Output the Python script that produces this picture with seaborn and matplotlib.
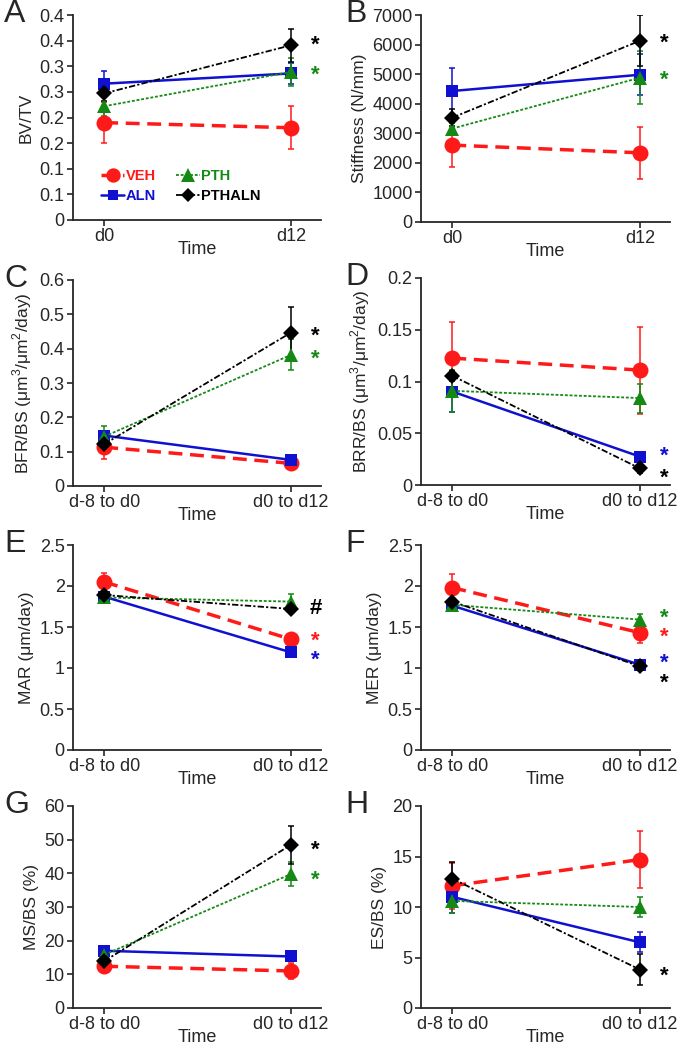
import numpy as np
import pandas as pd
import seaborn as sns
import matplotlib.pyplot as plt
from matplotlib.lines import Line2D

# группы и стили
groups = ['VEH', 'ALN', 'PTH', 'PTHALN']
colors = {'VEH': '#ff1a1a', 'ALN': '#1010d0', 'PTH': '#148a14', 'PTHALN': '#000000'}
markers = {'VEH': 'o', 'ALN': 's', 'PTH': '^', 'PTHALN': 'D'}
msizes = {'VEH': 11.5, 'ALN': 8.5, 'PTH': 10.5, 'PTHALN': 8}
lwidths = {'VEH': 2.5, 'ALN': 1.8, 'PTH': 1.3, 'PTHALN': 1.3}
lstyles = {'VEH': (0, (4, 2.2)), 'ALN': '-', 'PTH': (0, (1.6, 1.0)),
           'PTHALN': (0, (3.5, 1.2, 1.2, 1.2))}

time_ab = ['d0', 'd12']
time_rest = ['d-8 to d0', 'd0 to d12']

# значения (порядок: VEH, ALN, PTH, PTHALN); t0 / t1 и ошибки
bvtv_t0 = [0.190, 0.266, 0.222, 0.247]
bvtv_t1 = [0.180, 0.286, 0.289, 0.341]
bvtv_e0 = [0.040, 0.025, 0.020, 0.015]
bvtv_e1 = [0.042, 0.020, 0.028, 0.032]

stiff_t0 = [2600, 4430, 3160, 3530]
stiff_t1 = [2340, 4980, 4880, 6130]
stiff_e0 = [750, 780, 200, 300]
stiff_e1 = [880, 700, 900, 870]

bfr_t0 = [0.113, 0.147, 0.144, 0.122]
bfr_t1 = [0.066, 0.076, 0.382, 0.447]
bfr_e0 = [0.035, 0.010, 0.030, 0.020]
bfr_e1 = [0.008, 0.008, 0.045, 0.075]

brr_t0 = [0.1226, 0.0903, 0.0910, 0.1055]
brr_t1 = [0.1110, 0.0274, 0.0840, 0.0160]
brr_e0 = [0.035, 0.020, 0.020, 0.005]
brr_e1 = [0.042, 0.003, 0.014, 0.004]

mar_t0 = [2.05, 1.87, 1.86, 1.89]
mar_t1 = [1.35, 1.19, 1.81, 1.72]
mar_e0 = [0.11, 0.04, 0.06, 0.03]
mar_e1 = [0.07, 0.03, 0.09, 0.03]

mer_t0 = [1.98, 1.76, 1.77, 1.81]
mer_t1 = [1.43, 1.04, 1.59, 1.02]
mer_e0 = [0.17, 0.07, 0.04, 0.03]
mer_e1 = [0.12, 0.03, 0.07, 0.03]

msbs_t0 = [12.4, 17.0, 15.8, 13.9]
msbs_t1 = [11.0, 15.3, 39.8, 48.5]
msbs_e0 = [2.0, 1.0, 1.5, 1.5]
msbs_e1 = [2.3, 0.8, 3.5, 5.7]

esbs_t0 = [12.1, 11.0, 10.6, 12.8]
esbs_t1 = [14.7, 6.5, 10.0, 3.8]
esbs_e0 = [2.3, 1.6, 1.2, 1.7]
esbs_e1 = [2.8, 1.0, 1.0, 1.5]

# звездочки: (текст, группа-цвет, y)
stars_a = [('*', 'PTHALN', 0.342), ('*', 'PTH', 0.282)]
stars_b = [('*', 'PTHALN', 6050), ('*', 'PTH', 4780)]
stars_c = [('*', 'PTHALN', 0.435), ('*', 'PTH', 0.37)]
stars_d = [('*', 'ALN', 0.028), ('*', 'PTHALN', 0.007)]
stars_e = [('#', 'PTHALN', 1.72), ('*', 'VEH', 1.33), ('*', 'ALN', 1.09)]
stars_f = [('*', 'PTH', 1.61), ('*', 'VEH', 1.37), ('*', 'ALN', 1.06), ('*', 'PTHALN', 0.82)]
stars_g = [('*', 'PTHALN', 47.0), ('*', 'PTH', 38.0)]
stars_h = [('*', 'PTHALN', 3.1)]

panels = [
    dict(letter='A', t0=bvtv_t0, t1=bvtv_t1, e0=bvtv_e0, e1=bvtv_e1, ylabel='BV/TV',
         ticks=np.arange(0, 0.401, 0.05),
         labels=['0', '0.1', '0.1', '0.2', '0.2', '0.3', '0.3', '0.4', '0.4'],
         xt=time_ab, stars=stars_a, box=(73, 321, 15, 220)),
    dict(letter='B', t0=stiff_t0, t1=stiff_t1, e0=stiff_e0, e1=stiff_e1, ylabel='Stiffness (N/mm)',
         ticks=np.arange(0, 7001, 1000), labels=None,
         xt=time_ab, stars=stars_b, box=(421, 670, 15, 222)),
    dict(letter='C', t0=bfr_t0, t1=bfr_t1, e0=bfr_e0, e1=bfr_e1,
         ylabel='BFR/BS (μm$^3$/μm$^2$/day)',
         ticks=np.arange(0, 0.601, 0.1), labels=['0', '0.1', '0.2', '0.3', '0.4', '0.5', '0.6'],
         xt=time_rest, stars=stars_c, box=(73, 321, 280, 486)),
    dict(letter='D', t0=brr_t0, t1=brr_t1, e0=brr_e0, e1=brr_e1,
         ylabel='BRR/BS (μm$^3$/μm$^2$/day)',
         ticks=np.arange(0, 0.201, 0.05), labels=['0', '0.05', '0.1', '0.15', '0.2'],
         xt=time_rest, stars=stars_d, box=(421, 670, 278, 485)),
    dict(letter='E', t0=mar_t0, t1=mar_t1, e0=mar_e0, e1=mar_e1, ylabel='MAR (μm/day)',
         ticks=np.arange(0, 2.51, 0.5), labels=['0', '0.5', '1', '1.5', '2', '2.5'],
         xt=time_rest, stars=stars_e, box=(73, 321, 545, 750)),
    dict(letter='F', t0=mer_t0, t1=mer_t1, e0=mer_e0, e1=mer_e1, ylabel='MER (μm/day)',
         ticks=np.arange(0, 2.51, 0.5), labels=['0', '0.5', '1', '1.5', '2', '2.5'],
         xt=time_rest, stars=stars_f, box=(421, 670, 545, 750)),
    dict(letter='G', t0=msbs_t0, t1=msbs_t1, e0=msbs_e0, e1=msbs_e1, ylabel='MS/BS (%)',
         ticks=np.arange(0, 61, 10), labels=None,
         xt=time_rest, stars=stars_g, box=(73, 321, 806, 1008)),
    dict(letter='H', t0=esbs_t0, t1=esbs_t1, e0=esbs_e0, e1=esbs_e1, ylabel='ES/BS (%)',
         ticks=np.arange(0, 21, 5), labels=None,
         xt=time_rest, stars=stars_h, box=(421, 670, 806, 1008)),
]

sns.set_style('ticks')
plt.rcParams['font.family'] = ['Liberation Sans', 'DejaVu Sans']
plt.rcParams['mathtext.fontset'] = 'custom'
plt.rcParams['mathtext.rm'] = 'Liberation Sans'

W, H = 682, 1047
fig = plt.figure(figsize=(W / 100, H / 100), dpi=100)

for p in panels:
    l, r, t, b = p['box']
    ax = fig.add_axes([l / W, 1 - b / H, (r - l) / W, (b - t) / H])

    df = pd.DataFrame({
        'group': groups * 2,
        'pos': [0] * 4 + [1] * 4,
        'value': p['t0'] + p['t1'],
        'err': p['e0'] + p['e1'],
    })

    for g in groups:
        sub = df[df['group'] == g]
        ax.errorbar(sub['pos'], sub['value'], yerr=sub['err'], fmt='none',
                    ecolor=colors[g], elinewidth=1.1, capsize=2, capthick=1.1, zorder=2)
        sns.lineplot(data=sub, x='pos', y='value', ax=ax, color=colors[g],
                     marker=markers[g], markersize=msizes[g], markeredgewidth=0,
                     linewidth=lwidths[g], linestyle=lstyles[g],
                     legend=False, zorder=3)

    for txt, g, y in p['stars']:
        ax.text(1.13, y, txt, color=colors[g], fontsize=16, fontweight='bold',
                ha='center', va='center')

    ax.set_xlim(-0.167, 1.16)
    ax.set_ylim(0, p['ticks'][-1])
    ax.set_xticks([0, 1])
    ax.set_xticklabels(p['xt'], fontsize=13)
    ax.set_yticks(p['ticks'])
    if p['labels'] is not None:
        ax.set_yticklabels(p['labels'])
    ax.tick_params(axis='y', labelsize=13, length=4, width=1.2, pad=2)
    ax.tick_params(axis='x', length=4, width=1.2, pad=2)
    ax.set_xlabel('Time', fontsize=13, labelpad=-3)
    ax.set_ylabel(p['ylabel'], fontsize=12.5)
    for s in ['top', 'right']:
        ax.spines[s].set_visible(False)
    for s in ['left', 'bottom']:
        ax.spines[s].set_linewidth(1.3)

    fig.text((4 if p['letter'] in 'ACEG' else 345) / W, 1 - (t - 1) / H, p['letter'],
             fontsize=23, ha='left', va='center')

    if p['letter'] == 'A':
        handles = [Line2D([], [], color=colors[g], marker=markers[g], markersize=msizes[g] * 0.9,
                          markeredgewidth=0, linewidth=lwidths[g], linestyle=lstyles[g])
                   for g in groups]
        leg = ax.legend(handles=handles, labels=groups, ncol=2, loc='lower left',
                        bbox_to_anchor=(0.06, 0.02), frameon=False, fontsize=10.5,
                        handlelength=1.6, handletextpad=0.1, columnspacing=1.4,
                        labelspacing=0.4)
        for txt, g in zip(leg.get_texts(), groups):
            txt.set_color(colors[g])
            txt.set_fontweight('bold')

fig.savefig('out.png', dpi=100)
